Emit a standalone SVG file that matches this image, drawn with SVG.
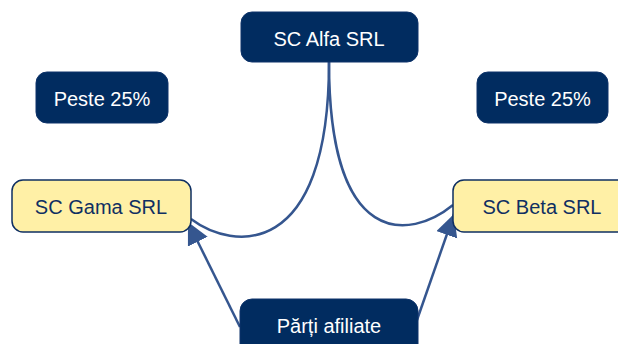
<svg xmlns="http://www.w3.org/2000/svg" width="618" height="344" viewBox="0 0 618 344">
<style>
.dark{fill:#012C60;stroke:#0E336A;stroke-width:1}
.light{fill:#FFF0A6;stroke:#0F2F62;stroke-width:1.5}
.tw{font-family:"Liberation Sans",Arial,sans-serif;font-size:20px;fill:#FFFFFF;text-anchor:middle}
.td{font-family:"Liberation Sans",Arial,sans-serif;font-size:20px;fill:#0F2F62;text-anchor:middle}
.con{fill:none;stroke:#35568F;stroke-width:2.5}
</style>
<defs>
<marker id="ah" markerUnits="userSpaceOnUse" markerWidth="26" markerHeight="26" refX="22" refY="11" orient="auto">
<path d="M0,0 L22,11 L0,22 Z" fill="#35568F"/>
</marker>
</defs>
<rect width="618" height="344" fill="#FFFFFF"/>
<g id="connectors">
<path class="con" d="M329,62 C329,262 232,250 191,219"/>
<path class="con" d="M329,62 C329,250 410,240 453,205"/>
<path class="con" d="M240,327 L188,222" marker-end="url(#ah)"/>
<path class="con" d="M417,320 L454,214" marker-end="url(#ah)"/>
</g>
<g id="alfa">
<rect class="dark" x="241" y="12" width="177" height="50" rx="11"/>
<text class="tw" x="329" y="46">SC Alfa SRL</text>
</g>
<g id="peste-left">
<rect class="dark" x="36" y="72" width="132" height="51" rx="11"/>
<text class="tw" x="102" y="106">Peste 25%</text>
</g>
<g id="peste-right">
<rect class="dark" x="477" y="72" width="131" height="51" rx="11"/>
<text class="tw" x="542.5" y="106">Peste 25%</text>
</g>
<g id="gama">
<rect class="light" x="12" y="180" width="179" height="52" rx="11"/>
<text class="td" x="101" y="214">SC Gama SRL</text>
</g>
<g id="beta">
<rect class="light" x="453" y="180" width="180" height="52" rx="11"/>
<text class="td" x="542" y="214">SC Beta SRL</text>
</g>
<g id="parti">
<rect class="dark" x="240" y="299" width="178" height="60" rx="12"/>
<text class="tw" x="329" y="333">Părți afiliate</text>
</g>
</svg>
